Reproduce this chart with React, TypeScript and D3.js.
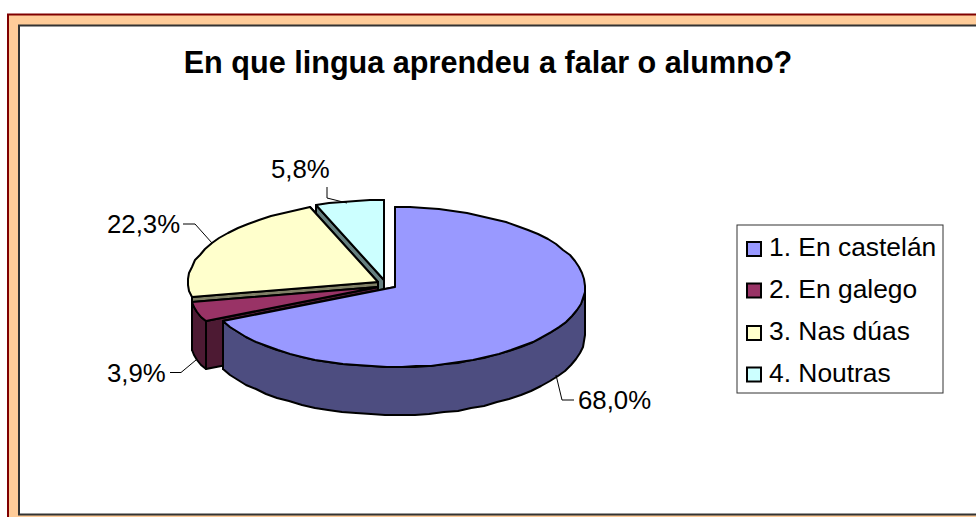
import React from "react";
import * as d3 from "d3";

const categories = ["1. En castelán", "2. En galego", "3. Nas dúas", "4. Noutras"];
const values = [68.0, 3.9, 22.3, 5.8];
const valueLabels = ["68,0%", "3,9%", "22,3%", "5,8%"];
const topColors = ["#9999FF", "#993366", "#FFFFCC", "#CCFFFF"];
const sideColors = ["#4D4D80", "#4D1A33", "#808066", "#668080"];
const title = "En que lingua aprendeu a falar o alumno?";

const FONT = "'Liberation Sans', Arial, sans-serif";
const W = 976, H = 517;
const CX = 395, CY = 287, RX = 190, RY = 80, DEPTH = 48;
// explosion offset of each slice relative to the pie centre
const explodeX = [0, -17, -17, -11];
const explodeY = [0, 0, -5, -7];
// the outer wall of slice 3 is hidden behind slice 2 in the original
const showWall = [true, true, false, false];
// leader lines [x, y] and label anchors
const leaders: [number, number][][] = [
  [[556, 375], [562, 400], [574, 400]],
  [[196, 360], [181, 372.5], [170, 372.5]],
  [[212, 243], [195, 224], [183, 224]],
  [[347, 203], [327, 198], [327, 187]],
];
const labelPos: [number, number][] = [[578, 409], [107, 382], [107, 233], [271, 178]];
const legendY = [249, 290.5, 333, 374.5];

const pie = d3.pie<number>().sort(null).startAngle(0).endAngle(2 * Math.PI);
const arcs = pie(values);
const line = d3.line<[number, number]>().x((d) => d[0]).y((d) => d[1]);

function pt(cx: number, cy: number, a: number): [number, number] {
  return [Math.round(cx + RX * Math.sin(a)), Math.round(cy - RY * Math.cos(a))];
}
function rim(cx: number, cy: number, a0: number, a1: number): [number, number][] {
  const n = Math.max(1, Math.ceil((a1 - a0) / (Math.PI / 40)));
  return d3.range(n + 1).map((i) => pt(cx, cy, a0 + ((a1 - a0) * i) / n));
}

export default function App() {
  const order = [3, 2, 1, 0];
  return (
    <svg width={W} height={H} style={{ position: "fixed", left: 0, top: 0, display: "block" }}>
      <rect width={W} height={H} fill="#fff" />
      <rect x={8} y={14.5} width={W} height={H} fill="#FFCC99" stroke="#800000" strokeWidth={2} />
      <rect x={19} y={25.5} width={W} height={489} fill="#fff" stroke="#333" strokeWidth={2} />
      <text x={488} y={73} textAnchor="middle" fontFamily={FONT} fontWeight="bold" fontSize={30.6}>{title}</text>
      {order.map((i) => {
        const a = arcs[i];
        const cx = CX + explodeX[i], cy = CY + explodeY[i];
        const apex: [number, number] = [cx, cy];
        const down = (p: [number, number]): [number, number] => [p[0], p[1] + DEPTH];
        const p0 = pt(cx, cy, a.startAngle), p1 = pt(cx, cy, a.endAngle);
        const wallFrom = Math.max(a.startAngle, Math.PI / 2);
        const wallTo = Math.min(a.endAngle, (3 * Math.PI) / 2);
        const wall = showWall[i] && wallTo > wallFrom ? rim(cx, cy, wallFrom, wallTo) : [];
        const topPts = [apex, ...rim(cx, cy, a.startAngle, a.endAngle)];
        const faces: [number, number][][] = [
          [apex, p1, down(p1), down(apex)],
          [apex, p0, down(p0), down(apex)],
        ];
        if (wall.length) faces.push([...wall, ...wall.slice().reverse().map(down)]);
        return (
          <g key={i} stroke="#000" strokeWidth={2} strokeLinejoin="round">
            {faces.map((f, j) => (
              <path key={j} d={line(f) + "Z"} fill={sideColors[i]} />
            ))}
            <path d={line(topPts) + "Z"} fill={topColors[i]} />
          </g>
        );
      })}
      {leaders.map((l, i) => (
        <path key={i} d={line(l)!} fill="none" stroke="#000" strokeWidth={1} />
      ))}
      {valueLabels.map((t, i) => (
        <text key={i} x={labelPos[i][0]} y={labelPos[i][1]} fontFamily={FONT} fontSize={25.8}>{t}</text>
      ))}
      <rect x={737} y={225} width={206} height={168} fill="#fff" stroke="#333" strokeWidth={1} />
      {categories.map((c, i) => (
        <g key={i}>
          <rect x={747} y={legendY[i] - 7} width={14} height={14} fill={topColors[i]} stroke="#000" strokeWidth={2} />
          <text x={769} y={legendY[i] + 7} fontFamily={FONT} fontSize={26.4}>{c}</text>
        </g>
      ))}
    </svg>
  );
}
